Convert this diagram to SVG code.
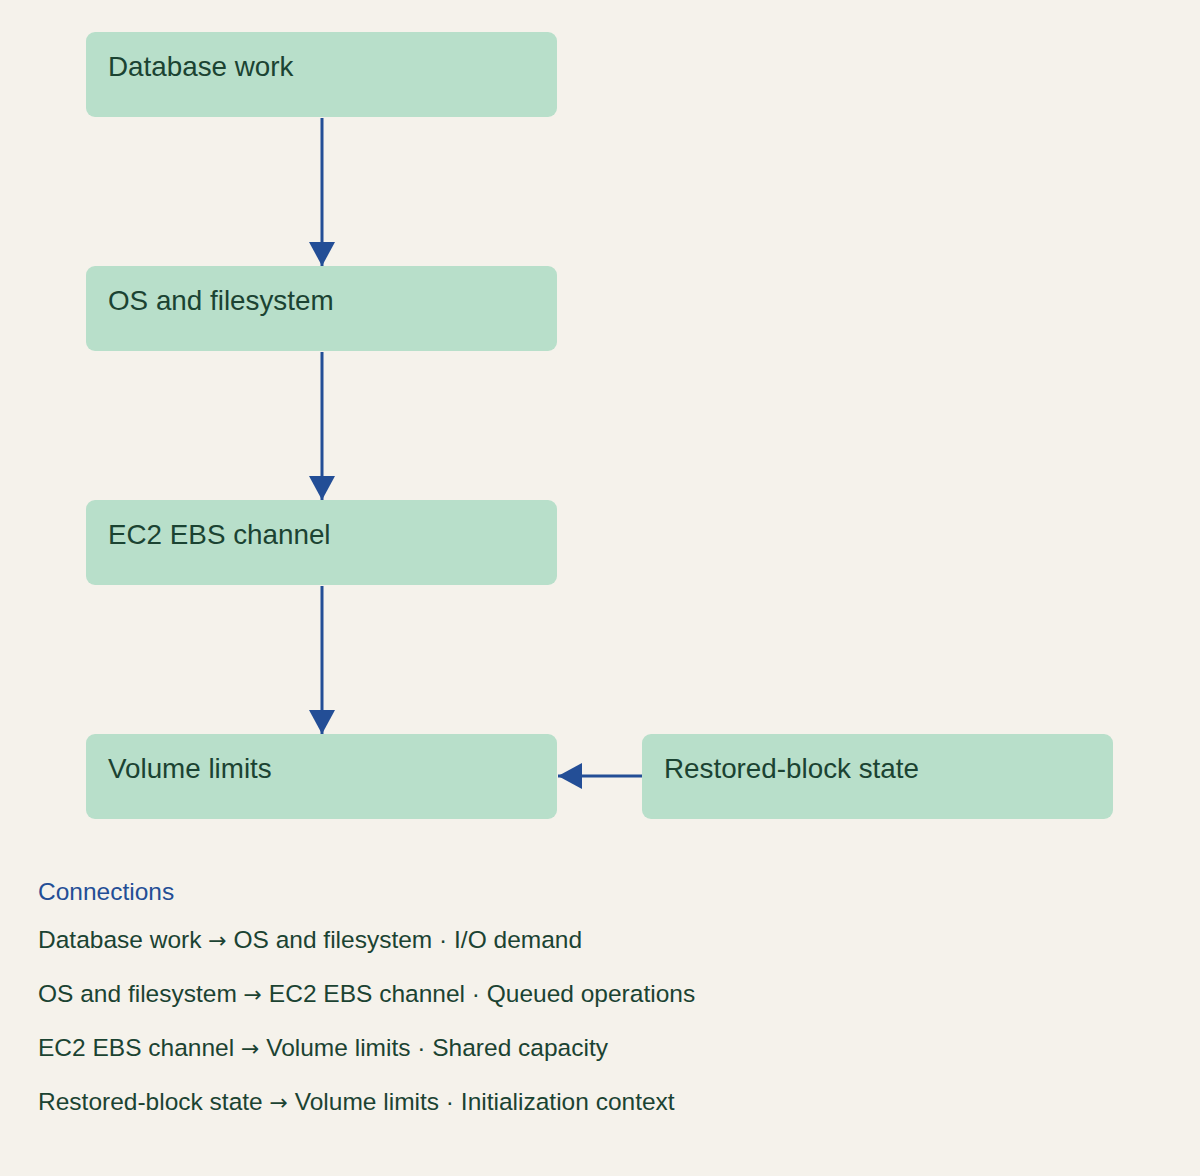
<svg xmlns="http://www.w3.org/2000/svg" width="1200" height="1176" viewBox="0 0 1200 1176">
<style>
.box{fill:#b8dfca}
.lbl{font-family:"Liberation Sans",Arial,sans-serif;font-size:27.8px;fill:#1b4332}
.edge{stroke:#234e96;stroke-width:3;fill:none}
.leg{font-family:"Liberation Sans",Arial,sans-serif;font-size:24.5px;fill:#1b4332}
.ar{font-family:"DejaVu Sans",sans-serif;font-size:22px}
</style>
<defs><marker id="ah" markerUnits="userSpaceOnUse" markerWidth="26" markerHeight="26" refX="24" refY="13" orient="auto"><path d="M0,0 L24,13 L0,26 Z" fill="#234e96"/></marker></defs>
<rect width="1200" height="1176" fill="#f5f2eb"/>
<g id="connectors">
<line class="edge" x1="322" y1="118" x2="322" y2="266" marker-end="url(#ah)"/>
<line class="edge" x1="322" y1="352" x2="322" y2="500" marker-end="url(#ah)"/>
<line class="edge" x1="322" y1="586" x2="322" y2="734" marker-end="url(#ah)"/>
<line class="edge" x1="642" y1="776" x2="558" y2="776" marker-end="url(#ah)"/>
</g>
<g id="n1"><rect class="box" x="86" y="32" width="471" height="85" rx="9"/><text class="lbl" x="108" y="76">Database work</text></g>
<g id="n2"><rect class="box" x="86" y="266" width="471" height="85" rx="9"/><text class="lbl" x="108" y="310">OS and filesystem</text></g>
<g id="n3"><rect class="box" x="86" y="500" width="471" height="85" rx="9"/><text class="lbl" x="108" y="544">EC2 EBS channel</text></g>
<g id="n4"><rect class="box" x="86" y="734" width="471" height="85" rx="9"/><text class="lbl" x="108" y="778">Volume limits</text></g>
<g id="n5"><rect class="box" x="642" y="734" width="471" height="85" rx="9"/><text class="lbl" x="664" y="778">Restored-block state</text></g>
<g id="legend">
<text class="leg" x="38" y="900" style="fill:#234e96">Connections</text>
<text class="leg" x="38" y="948">Database work <tspan class="ar">→</tspan> OS and filesystem · I/O demand</text>
<text class="leg" x="38" y="1002">OS and filesystem <tspan class="ar">→</tspan> EC2 EBS channel · Queued operations</text>
<text class="leg" x="38" y="1056">EC2 EBS channel <tspan class="ar">→</tspan> Volume limits · Shared capacity</text>
<text class="leg" x="38" y="1110">Restored-block state <tspan class="ar">→</tspan> Volume limits · Initialization context</text>
</g>
</svg>
